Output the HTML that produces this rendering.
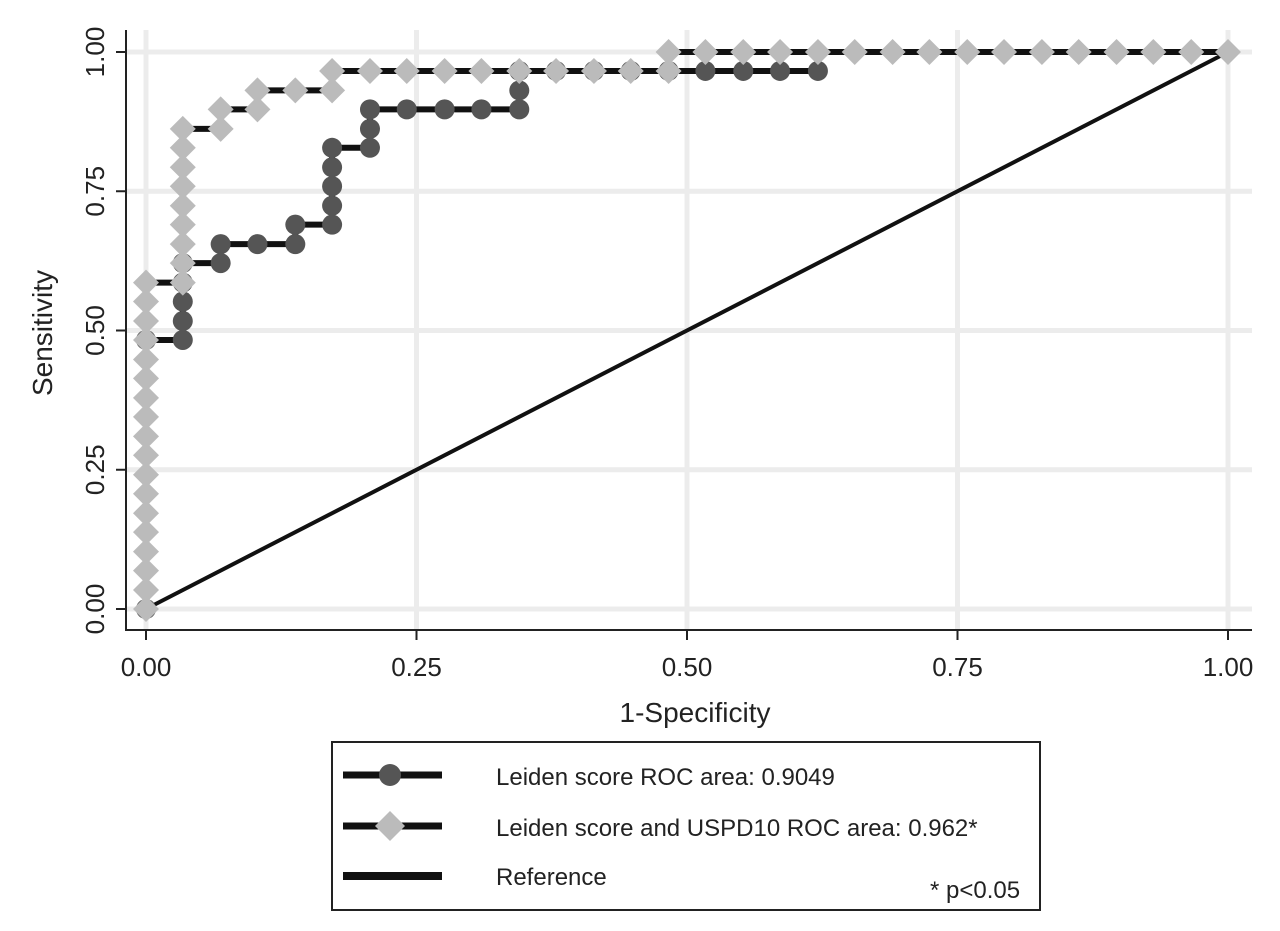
<!DOCTYPE html>
<html><head><meta charset="utf-8"><style>
body{margin:0;background:#fff;font-family:"Liberation Sans",Arial,sans-serif}
svg{display:block}
</style></head><body>
<svg id="chart" width="1280" height="931" xmlns="http://www.w3.org/2000/svg">
<rect width="1280" height="931" fill="#fff"/>
<g id="grid"></g>
<g id="axes"></g>
<g id="series"></g>
<text x="52" y="333" font-size="28" text-anchor="middle" transform="rotate(-90 52 333)" fill="#222">Sensitivity</text>
<text x="695" y="722" font-size="28" text-anchor="middle" fill="#222">1-Specificity</text>
<g>
<rect x="332" y="742" width="708" height="168" fill="#fff" stroke="#222" stroke-width="2"/>
<g>
<line x1="343" y1="775" x2="442" y2="775" stroke="#111" stroke-width="7"/>
<circle cx="390" cy="775" r="11" fill="#555"/>
<text x="496" y="785" font-size="24" fill="#222">Leiden score ROC area: 0.9049</text></g>
<g>
<line x1="343" y1="826" x2="442" y2="826" stroke="#111" stroke-width="7"/>
<polygon points="390,811 405,826 390,841 375,826" fill="#bbb"/>
<text x="496" y="836" font-size="24" fill="#222">Leiden score and USPD10 ROC area: 0.962*</text></g>
<g>
<line x1="343" y1="876" x2="442" y2="876" stroke="#111" stroke-width="8"/>
<text x="496" y="885" font-size="24" fill="#222">Reference</text></g>
<text x="930" y="898" font-size="24" fill="#222">* p&lt;0.05</text>
</g>
</svg>
<script>
const ticks=[0,0.25,0.5,0.75,1];
const tickLabels=["0.00","0.25","0.50","0.75","1.00"];
const leidenFpr=[0,0,.034,.034,.034,.034,.034,.069,.069,.103,.138,.138,.172,.172,.172,.172,.172,.207,.207,.207,.241,.276,.310,.345,.345,.345,.379,.414,.448,.483,.517,.552,.586,.621];
const leidenTpr=[0,.483,.483,.517,.552,.586,.621,.621,.655,.655,.655,.690,.690,.724,.759,.793,.828,.828,.862,.897,.897,.897,.897,.897,.931,.966,.966,.966,.966,.966,.966,.966,.966,.966];
const combFpr=[0,0,0,0,0,0,0,0,0,0,0,0,0,0,0,0,0,0,.034,.034,.034,.034,.034,.034,.034,.034,.034,.069,.069,.103,.103,.138,.172,.172,.207,.241,.276,.310,.345,.379,.414,.448,.483,.483,.517,.552,.586,.621,.655,.690,.724,.759,.793,.828,.862,.897,.931,.966,1];
const combTpr=[0,.034,.069,.103,.138,.172,.207,.241,.276,.310,.345,.379,.414,.448,.483,.517,.552,.586,.586,.621,.655,.690,.724,.759,.793,.828,.862,.862,.897,.897,.931,.931,.931,.966,.966,.966,.966,.966,.966,.966,.966,.966,.966,1,1,1,1,1,1,1,1,1,1,1,1,1,1,1,1];
const refX=[0,1];const refY=[0,1];
const NS="http://www.w3.org/2000/svg";
const X=v=>146+v*1082, Y=v=>609-v*557;
function mk(t,a,p){const e=document.createElementNS(NS,t);for(const k in a)e.setAttribute(k,a[k]);p.appendChild(e);return e;}
const grid=document.getElementById('grid'),axes=document.getElementById('axes'),ser=document.getElementById('series');
ticks.forEach((t,i)=>{
 const gx=mk('line',{x1:X(t),x2:X(t),y1:30,y2:630,stroke:'#ececec','stroke-width':5},grid);
 
 
 const gy=mk('line',{x1:126,x2:1252,y1:Y(t),y2:Y(t),stroke:'#ececec','stroke-width':5},grid);
 
 
 mk('line',{x1:X(t),x2:X(t),y1:630,y2:640,stroke:'#222','stroke-width':2},axes);
 mk('line',{x1:116,x2:126,y1:Y(t),y2:Y(t),stroke:'#222','stroke-width':2},axes);
 const xl=mk('text',{x:X(t),y:676,'font-size':26,'text-anchor':'middle',fill:'#222'},axes);xl.textContent=tickLabels[i];
 
 
 const yl=mk('text',{x:104,y:Y(t),'font-size':26,'text-anchor':'middle',fill:'#222',transform:`rotate(-90 104 ${Y(t)})`},axes);yl.textContent=tickLabels[i];
 
 
});
mk('line',{x1:126,x2:126,y1:30,y2:631,stroke:'#222','stroke-width':2},axes);
mk('line',{x1:125,x2:1252,y1:630,y2:630,stroke:'#222','stroke-width':2},axes);
const pts=(xs,ys)=>xs.map((v,i)=>X(v)+','+Y(ys[i])).join(' ');
const refL=mk('polyline',{points:pts(refX,refY),fill:'none',stroke:'#111','stroke-width':4},ser);


const lL=mk('polyline',{points:pts(leidenFpr,leidenTpr),fill:'none',stroke:'#111','stroke-width':6},ser);


leidenFpr.forEach((v,i)=>{const c=mk('circle',{cx:X(v),cy:Y(leidenTpr[i]),r:10,fill:'#555'},ser);
 
 });
const cL=mk('polyline',{points:pts(combFpr,combTpr),fill:'none',stroke:'#111','stroke-width':6},ser);


combFpr.forEach((v,i)=>{const x=X(v),y=Y(combTpr[i]);const d=mk('polygon',{points:`${x},${y-13} ${x+13},${y} ${x},${y+13} ${x-13},${y}`,fill:'#bbb'},ser);
 
 });
</script>
</body></html>
